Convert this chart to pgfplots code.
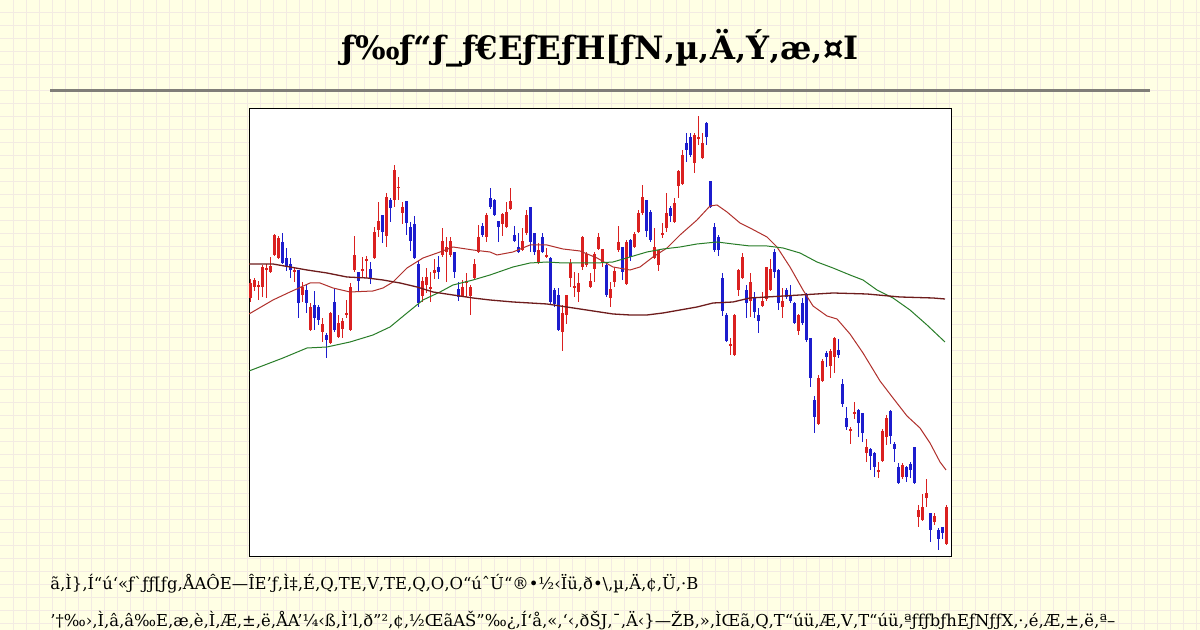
\documentclass[border=0pt]{standalone}
\usepackage{pgfplots}
\pgfplotsset{compat=1.18}
\usepackage{pgfplotstable}
\usepackage{fontspec}
\newfontfamily\pagefont{DejaVu Serif}

\definecolor{pagebg}{RGB}{255,255,228}
\definecolor{pagegrid}{RGB}{243,235,226}
\definecolor{rulegray}{RGB}{128,126,120}
\definecolor{upred}{RGB}{218,32,32}
\definecolor{downblue}{RGB}{28,28,205}
\definecolor{maS}{RGB}{176,48,44}
\definecolor{maM}{RGB}{40,125,40}
\definecolor{maL}{RGB}{110,28,28}

% daily candles: index, high, low, body top, body bottom
\pgfplotstableread{
i hi lo top bot
0 278 255 274 259
1 279 266 277 270
2 276 257 272 270
3 292 260 290 270
4 293 259 289 287
5 300 284 291 285
6 323 301 322 302
7 321 298 319 299
11 290 275 287 285
13 275 255 270 262
15 254 226 250 227
18 239 215 233 225
20 245 213 244 214
22 242 219 234 220
23 239 219 236 228
24 257 239 244 242
25 274 226 270 227
26 321 285 302 287
28 300 280 288 286
29 301 279 298 296
31 330 298 325 299
32 355 320 336 327
34 364 310 360 321
36 392 350 387 357
37 380 357 370 369
38 355 333 350 344
43 280 255 276 261
44 289 264 280 272
45 285 255 270 268
46 298 278 287 284
48 329 300 316 302
49 320 275 310 305
50 320 300 316 302
53 277 260 270 261
54 284 260 276 274
55 272 242 270 261
56 298 277 293 279
57 332 304 320 305
59 344 315 342 320
63 344 321 343 333
64 355 329 345 330
65 369 347 356 348
68 329 306 316 307
69 347 322 342 324
72 314 293 307 294
74 309 299 302 300
78 252 206 244 225
79 262 233 262 242
80 298 270 294 279
81 285 260 271 269
82 284 255 274 265
83 321 287 320 290
84 305 290 303 292
85 284 269 276 270
86 305 275 303 288
87 324 307 320 308
88 308 290 308 294
90 275 250 268 259
91 289 270 286 275
92 331 305 315 307
94 317 272 315 273
96 325 309 323 310
97 347 324 344 325
98 372 342 360 344
101 329 298 310 299
102 307 286 307 292
103 334 319 324 322
104 364 325 344 329
106 359 334 354 335
107 387 359 386 371
108 407 372 402 373
111 424 384 422 394
112 441 412 420 418
113 424 398 414 399
120 219 202 213 211
121 243 201 242 202
122 288 261 287 267
123 304 278 300 279
125 284 240 275 256
128 265 250 256 251
129 290 256 290 258
130 298 266 288 267
133 269 239 256 250
137 243 222 242 226
142 182 132 179 133
143 198 175 196 176
145 208 179 206 191
146 220 184 219 200
150 130 113 128 126
151 155 138 145 143
154 118 95 110 104
157 95 79 87 85
158 128 95 126 96
159 142 112 139 120
163 94 78 92 80
167 52 30 47 40
168 63 36 50 37
169 78 50 64 59
171 44 32 41 35
174 52 12 50 13
}\upcandles

\pgfplotstableread{
i hi lo top bot
8 324 293 315 294
9 309 286 299 290
10 299 279 293 287
12 287 239 287 254
14 272 244 267 254
16 266 227 252 239
17 252 232 250 237
19 224 199 222 217
21 269 225 255 227
27 285 266 285 276
30 295 273 288 279
33 342 314 342 325
35 359 335 357 349
39 356 322 356 334
40 335 306 330 316
41 341 298 333 299
42 296 250 293 254
47 301 278 290 285
51 305 279 305 285
52 275 256 268 260
58 334 320 331 322
60 369 348 359 350
61 358 341 357 342
62 336 315 336 330
66 331 315 322 316
67 324 304 310 305
70 350 305 350 315
71 324 302 324 305
73 324 304 320 305
75 300 253 299 255
76 269 250 267 253
77 269 226 262 227
89 294 260 292 262
93 310 277 310 285
95 318 296 317 300
99 357 320 357 326
100 347 315 345 317
105 351 335 349 341
109 424 395 414 407
110 424 400 420 402
114 435 412 434 420
115 376 349 376 350
116 334 305 330 307
117 322 301 320 307
118 284 241 279 246
119 244 215 242 216
124 272 239 267 254
126 265 239 259 245
127 249 224 242 236
131 308 279 305 285
132 288 247 287 254
134 269 258 267 260
135 272 254 262 256
136 255 233 254 234
138 259 232 254 234
139 264 215 262 217
140 219 170 219 179
141 161 124 157 140
144 206 190 204 200
147 218 199 207 202
148 178 150 173 153
149 150 127 139 130
152 148 120 147 134
153 144 115 144 124
155 109 87 108 101
156 105 80 104 90
160 147 113 146 121
161 115 95 113 108
162 94 73 90 74
164 91 75 90 80
165 95 79 93 87
166 110 73 110 74
170 44 15 44 27
172 29 7 27 18
173 30 18 30 24
}\downcandles

\begin{document}
\begin{tikzpicture}
\useasboundingbox (0,0) rectangle (600pt,315pt);
\clip (0,0) rectangle (600pt,315pt);
% squared page background
\fill[pagebg] (0,0) rectangle (600pt,315pt);
\foreach \k in {1,...,92} \draw[pagegrid, line width=0.5pt] (\k*6.5pt,0) -- (\k*6.5pt,315pt);
\foreach \k in {1,...,48} \draw[pagegrid, line width=0.5pt] (0,315pt-\k*6.5pt) -- (600pt,315pt-\k*6.5pt);

\node[anchor=base, inner sep=0, font=\pagefont\bfseries\fontsize{16.1}{19}\selectfont]
  at (300pt,285pt) {ƒ‰ƒ“ƒ\_ƒ€EƒEƒH[ƒN‚µ‚Ä‚Ý‚æ‚¤I};
\draw[rulegray, line width=1.5pt] (25pt,269.5pt) -- (575pt,269.5pt);

\begin{axis}[
  at={(124.5pt,36.5pt)}, anchor=south west,
  scale only axis, width=351pt, height=224pt,
  xmin=-0.25, xmax=175.25, ymin=0, ymax=448,
  xtick=\empty, ytick=\empty,
  axis line style={black, line width=0.5pt},
  axis background/.style={fill=white},
  candle/.style={draw=none, mark=none, forget plot,
    error bars/y dir=plus, error bars/y explicit, error bars/error mark=none},
]
% wicks
\addplot[candle, error bars/error bar style={draw=upred, line width=0.5pt, solid}]
  table[x=i, y=lo, y error expr=\thisrow{hi}-\thisrow{lo}] {\upcandles};
\addplot[candle, error bars/error bar style={draw=downblue, line width=0.5pt, solid}]
  table[x=i, y=lo, y error expr=\thisrow{hi}-\thisrow{lo}] {\downcandles};
% bodies
\addplot[candle, error bars/error bar style={draw=upred, line width=1.5pt, solid}]
  table[x=i, y=bot, y error expr=\thisrow{top}-\thisrow{bot}] {\upcandles};
\addplot[candle, error bars/error bar style={draw=downblue, line width=1.5pt, solid}]
  table[x=i, y=bot, y error expr=\thisrow{top}-\thisrow{bot}] {\downcandles};

% 25-day moving average
\addplot[maS, line width=0.5pt, mark=none] coordinates {
(-0.25,243) (5.75,257) (10,265) (15,274) (17.5,274) (20.75,269) (25,265)
(30.75,266) (33.25,269) (35.75,275) (39.25,289) (43.25,299) (47.5,305)
(50.75,310) (55.75,307) (60,305) (61.75,302) (65.75,305) (70,312)
(74.25,312) (78.25,308) (82.5,306) (86.75,299) (90.75,290) (95,287)
(97.5,290) (100.75,300) (104.25,309) (107.5,322) (111.75,337) (115,351)
(116.75,352) (119.25,345) (122.5,334) (125,329) (129.25,320) (131.75,310)
(135,290) (138.25,267) (140.75,251) (144.25,241) (146.75,238) (150,223)
(153.25,204) (157.5,176) (160.75,159) (164.25,141) (167.5,129) (170,114)
(172.5,95) (174,87)};
% 75-day moving average
\addplot[maM, line width=0.5pt, mark=none] coordinates {
(-0.25,186) (8.25,199) (14.25,209) (19.25,210) (25,215) (30.75,222) (35,230)
(39.25,244) (43.25,257) (47.5,265) (50.75,272) (55.75,277) (60,282)
(65.75,290) (70,294) (74.25,295) (78.25,294) (82.5,294) (86.75,294)
(90.75,295) (95,300) (99.25,305) (103.25,308) (107.5,310) (111.75,313)
(116.75,315) (120.75,313) (125,311) (129.25,311) (133.25,309) (137.5,304)
(141.75,295) (145.75,289) (150,282) (153.25,277) (156.75,267) (160.75,259)
(165,247) (169.25,232) (173.75,215)};
% 200-day moving average
\addplot[maL, line width=0.65pt, mark=none] coordinates {
(-0.25,293) (5.75,293) (10,290) (14.25,287) (19.25,284) (24.25,280)
(29.25,279) (33.25,277) (37.5,274) (41.75,270) (45.75,265) (50.75,262)
(55.75,259) (60,257) (65.75,255) (74.25,253) (82.5,248) (90.75,243)
(95,242) (99.25,242) (103.25,244) (107.5,247) (111.75,250) (115.75,254)
(120.75,255) (125,259) (129.25,260) (137.5,262) (145.75,264) (154.25,263)
(162.5,260) (170.75,259) (173.75,258)};
\end{axis}

\node[anchor=base west, inner sep=0, font=\pagefont\fontsize{8.2}{10}\selectfont]
  at (25pt,20pt) {ã‚Ì\}‚Í“ú‘«ƒ`ƒƒ[ƒg‚ÅAÔE—ÎE’ƒ‚Ì‡‚É‚Q‚TE‚V‚TE‚Q‚O‚O“úˆÚ“®•½‹Ïü‚ð•\textbackslash‚µ‚Ä‚¢‚Ü‚·B};
\node[anchor=base west, inner sep=0, font=\pagefont\fontsize{8.2}{10}\selectfont]
  at (25pt,1.8pt) {’†‰›‚Ì‚â‚â‰E‚æ‚è‚Ì‚Æ‚±‚ë‚ÅA’¼‹ß‚Ì’l‚ð”²‚¢‚½ŒãAŠ”‰¿‚Í‘å‚«‚‘‹‚ðŠJ‚¯‚Ä‹\}—ŽB‚»‚ÌŒã‚Q‚T“úü‚Æ‚V‚T“úü‚ªƒfƒbƒhEƒNƒƒX‚·‚é‚Æ‚±‚ë‚ª–};
\end{tikzpicture}
\end{document}
